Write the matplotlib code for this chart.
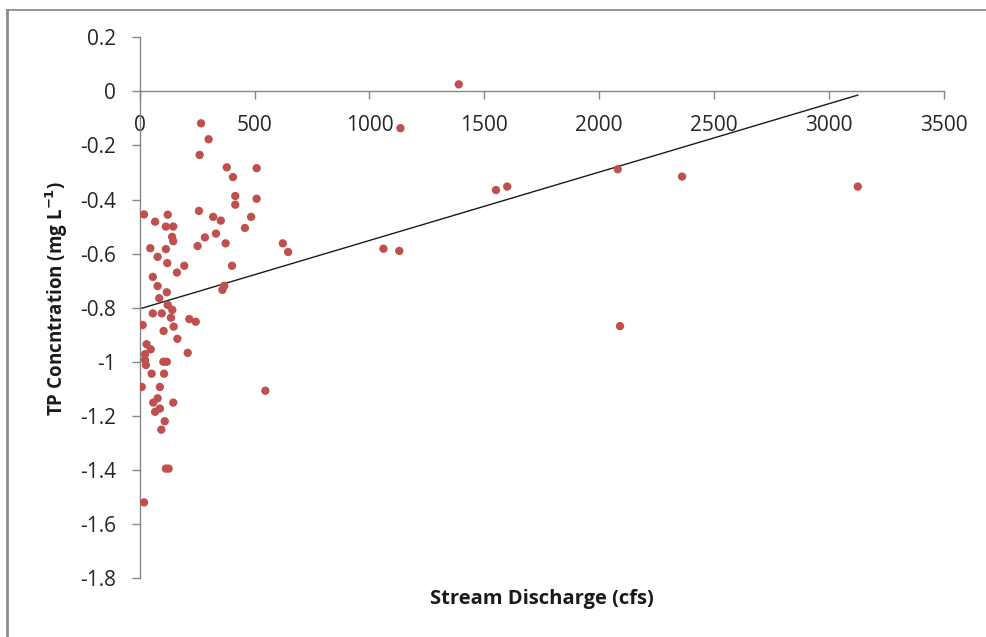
import numpy as np
import matplotlib
matplotlib.use("Agg")
from matplotlib import pyplot as plt
from matplotlib.lines import Line2D

# stream discharge (cfs) and TP concentration (log, mg/L)
discharge = [
    267, 300, 261, 379, 509, 406, 416, 509, 416, 19,
    258, 122, 67, 320, 353, 485, 458, 114, 146, 141,
    146, 332, 284, 46, 114, 252, 374, 623, 646, 78,
    120, 194, 402, 162, 57, 78, 118, 368, 360, 85,
    122, 142, 57, 96, 136, 216, 244, 13, 148, 104,
    164, 30, 48, 23, 209, 23, 27, 103, 118, 52,
    106, 9, 88, 547, 78, 59, 146, 88, 67, 109,
    94, 114, 126, 19,
    1389, 1135, 1551, 1600, 1061, 1130, 2081, 2361, 2091, 3126,
]
tp_conc = [
    -0.118, -0.177, -0.235, -0.281, -0.284, -0.317, -0.387, -0.397, -0.419, -0.455,
    -0.442, -0.456, -0.482, -0.464, -0.478, -0.464, -0.505, -0.500, -0.500, -0.538,
    -0.554, -0.526, -0.540, -0.580, -0.583, -0.572, -0.562, -0.562, -0.594, -0.612,
    -0.635, -0.645, -0.645, -0.670, -0.686, -0.720, -0.743, -0.719, -0.734, -0.765,
    -0.790, -0.808, -0.821, -0.821, -0.837, -0.842, -0.852, -0.864, -0.870, -0.886,
    -0.915, -0.935, -0.954, -0.972, -0.967, -0.993, -1.012, -1.000, -1.000, -1.044,
    -1.044, -1.093, -1.093, -1.107, -1.135, -1.151, -1.151, -1.173, -1.185, -1.220,
    -1.251, -1.395, -1.395, -1.520,
    0.026, -0.136, -0.365, -0.352, -0.582, -0.590, -0.288, -0.315, -0.868, -0.352,
]

x_ticks = [0, 500, 1000, 1500, 2000, 2500, 3000, 3500]
y_ticks = [0.2, 0, -0.2, -0.4, -0.6, -0.8, -1, -1.2, -1.4, -1.6, -1.8]

x = np.array(discharge, dtype=float)
y = np.array(tp_conc, dtype=float)

plt.rcParams['font.family'] = ['Open Sans', 'DejaVu Sans']

W, H = 986, 637
fig = plt.figure(figsize=(W / 100, H / 100), dpi=100)
ax = fig.add_axes([139.7 / W, 1 - 578.1 / H, (943.7 - 139.7) / W, (578.1 - 37.3) / H])

axis_gray = '#868686'

# points
ax.scatter(x, y, s=36, color='#C0504D', edgecolors='none', zorder=3)

# linear trendline over the data range
slope, icpt = np.polyfit(x, y, 1)
xl = np.array([x.min(), x.max()])
ax.plot(xl, slope * xl + icpt, color='#1a1a1a', lw=1.0, zorder=2)

ax.set_xlim(0, 3500)
ax.set_ylim(-1.8, 0.2)
ax.set_xticks(x_ticks)
ax.set_yticks(y_ticks)
ax.set_xticklabels([str(t) for t in x_ticks])
ax.set_yticklabels(['%g' % t for t in y_ticks])

# excel style: horizontal axis crosses at 0
ax.spines['bottom'].set_position(('data', 0))
ax.spines['top'].set_visible(False)
ax.spines['right'].set_visible(False)
for s in ('bottom', 'left'):
    ax.spines[s].set_color(axis_gray)
    ax.spines[s].set_linewidth(1.0)
ax.tick_params(axis='both', colors=axis_gray, length=6, width=1.0,
               labelsize=15, labelcolor='#262626')
ax.tick_params(axis='x', pad=11)
ax.tick_params(axis='y', pad=11)

# axis titles
fig.text(542 / W, 1 - 599 / H, 'Stream Discharge (cfs)', ha='center', va='center',
         fontsize=14.5, fontweight='bold', color='#1a1a1a')
fig.text(57 / W, 1 - 298 / H, r'TP Concntration (mg L$^{\mathbf{-1}}$)', ha='center',
         va='center', rotation=90, fontsize=13.5, fontweight='bold', color='#1a1a1a')

# chart area border (left and top edges visible)
fig.add_artist(Line2D([7 / W, 7 / W], [0, 1 - 9.5 / H], transform=fig.transFigure,
                      color='#8c8c8c', lw=2.0))
fig.add_artist(Line2D([7 / W, 1], [1 - 9.5 / H, 1 - 9.5 / H], transform=fig.transFigure,
                      color='#8c8c8c', lw=1.3))

fig.savefig('out.png', dpi=100)
